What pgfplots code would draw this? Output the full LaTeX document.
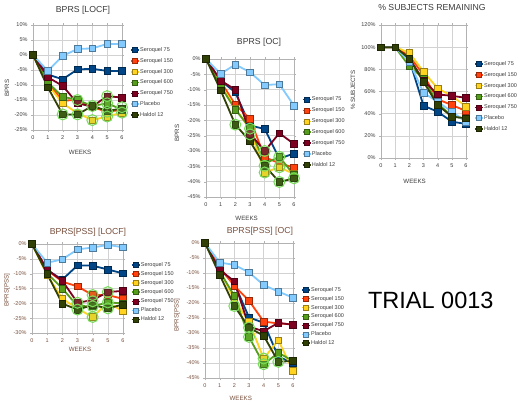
\documentclass[border=0pt]{standalone}
\usepackage{pgfplots}
\pgfplotsset{compat=1.18}
\usepackage{pgfplotstable}
\usepackage{fontspec}
\setmainfont{Liberation Sans}

\definecolor{c75}{HTML}{004586}
\definecolor{c150}{HTML}{FF420E}
\definecolor{c300}{HTML}{FFD320}
\definecolor{c600}{HTML}{579D1C}
\definecolor{c750}{HTML}{7E0021}
\definecolor{cpl}{HTML}{83CAFF}
\definecolor{chal}{HTML}{314004}
\definecolor{gcirc}{RGB}{120,220,90}
\definecolor{brn}{RGB}{120,80,62}
\definecolor{txt}{RGB}{60,60,60}

% BPRS [LOCF]
\pgfplotstableread{
x a b c d e p h
0 0 0 0 0 0 0 0
1 -6.5 -9.4 -10 -9.2 -7.4 -5.3 -10.8
2 -8.1 -15.2 -16.1 -13.9 -10.3 -0.3 -19.8
3 -4.8 -15 -19.4 -15 -16.1 2.0 -19.8
4 -4.6 -17.4 -21.7 -17 -17.2 2.2 -17
5 -5.3 -18.9 -20.5 -16.1 -13.7 3.7 -18.6
6 -5.3 -18.3 -19.2 -18.2 -14.2 3.7 -17.9
}\tA
\pgfplotstableread{
x y
2 -19.8
3 -15
3 -19.8
4 -17
4 -21.7
5 -13.7
5 -16.1
5 -18.9
5 -20.5
6 -17.4
6 -19.2
}\cA

% BPRS [OC]
\pgfplotstableread{
x a b c d e p h
0 0 0 0 0 0 0 0
1 -7 -7.3 -8.4 -8.9 -7 -4.8 -10.2
2 -10.9 -14.9 -16 -16.5 -10 -1.8 -21.4
3 -21.7 -19.5 -23 -22.5 -24.3 -4.3 -26.8
4 -22.8 -32 -37 -34.1 -30 -8.5 -34.8
5 -32.5 -34 -35.3 -31.9 -24.2 -8.2 -40.1
6 -30.8 -35.4 -37.5 -37.8 -27.7 -15.2 -38.9
}\tB
\pgfplotstableread{
x y
2 -21.4
3 -22.7
3 -24.6
4 -30
4 -34.8
4 -37
5 -31.9
5 -35.3
5 -40.1
6 -38.9
}\cB

% % SUBJECTS REMAINING
\pgfplotstableread{
x a b c d e p h
0 100 100 100 100 100 100 100
1 100 100 100 100 100 100 100
2 88.7 92 95 82.7 90 87 89.6
3 47.2 75 77.8 72 70 58.8 68.7
4 41.8 53 62.8 49 57.4 50.8 47.8
5 32.8 47.8 56 38 56.1 41.8 37.3
6 30.7 42.4 46.5 35 54.3 32.5 35.9
}\tC

% BPRS[PSS] [LOCF]
\pgfplotstableread{
x a b c d e p h
0 0 0 0 0 0 0 0
1 -8.8 -8.8 -10.5 -9.9 -8.6 -6.3 -10.1
2 -12 -12.7 -18.4 -15 -12.4 -5.2 -20.1
3 -7.2 -14.3 -21.8 -20.9 -19.8 -1.8 -22.1
4 -7.3 -17.2 -24.6 -21 -18.9 -1.2 -20.6
5 -8.6 -17.2 -19.8 -19.7 -16.2 -0.3 -21.7
6 -9.9 -18.5 -22.6 -20 -15.8 -1.1 -20.4
}\tD
\pgfplotstableread{
x y
3 -19.8
3 -22.1
4 -17.2
4 -19.3
4 -21
4 -24.6
5 -16.2
5 -19.7
5 -21.7
}\cD

% BPRS[PSS] [OC]
\pgfplotstableread{
x a b c d e p h
0 0 0 0 0 0 0 0
1 -8.7 -8.1 -8.9 -9.5 -8.9 -6.5 -10.6
2 -13.5 -14.3 -19 -17.6 -12.8 -7.3 -21
3 -24.8 -19.2 -26.2 -31.3 -27.9 -9.8 -28.2
4 -26.6 -26.2 -38.5 -40.4 -29.4 -14 -30.9
5 -37.9 -26.8 -32.4 -36.6 -26.6 -16.2 -39.6
6 -40 -27.1 -42.6 -39.3 -27.3 -18.2 -39.3
}\tE
\pgfplotstableread{
x y
2 -21
3 -28.2
3 -31.3
4 -38.5
4 -40.4
5 -39.6
}\cE

\pgfplotsset{
  ser/.style={color=#1, line width=1.8pt, mark=square*, mark size=3.3pt,
    mark options={fill=#1, draw=#1!60!black, line width=0.5pt, solid}},
  circ/.style={only marks, mark=*, mark size=5.5pt, forget plot,
    mark options={draw=gcirc, line width=1pt, fill=gcirc, fill opacity=0.18}},
  base/.style={scale only axis, xmin=0, xmax=6, xtick={0,...,6},
    grid=major, grid style={gray!35, line width=0.4pt},
    axis line style={gray!60, line width=0.4pt}, tick style={gray!60},
    tick align=outside, major tick length=2pt, clip=false,
    ticklabel style={font=\fontsize{5.5}{6}\selectfont, text=txt},
    /pgf/number format/assume math mode=true,
    yticklabel={\pgfmathprintnumber{\tick}\%},
    label style={font=\fontsize{6.2}{7}\selectfont, text=txt},
    every axis title shift=0pt,
    title style={font=\fontsize{8.7}{10}\selectfont, anchor=center, yshift=0pt, text=txt},
    xlabel style={anchor=center}, ylabel style={anchor=center},
    legend cell align=left,
    legend image code/.code={\draw[mark repeat=2, mark phase=2, mark size=2.5pt, line width=1.5pt] plot coordinates {(0pt,0pt)(4pt,0pt)(8pt,0pt)};},
    legend style={draw=none, fill=none, inner sep=0pt, anchor=north west,
      font=\fontsize{5.5}{6}\selectfont, text=txt,
      nodes={text height=3.8pt, text depth=1pt, inner sep=0.5pt}},
  },
  brown/.style={ticklabel style={text=brn}, label style={text=brn}, title style={text=brn}},
}

\newcommand{\seven}[1]{%
  \addplot[ser=c75] table[x=x,y=a]{#1};
  \addplot[ser=c150] table[x=x,y=b]{#1};
  \addplot[ser=c300] table[x=x,y=c]{#1};
  \addplot[ser=c600] table[x=x,y=d]{#1};
  \addplot[ser=c750] table[x=x,y=e]{#1};
  \addplot[ser=cpl] table[x=x,y=p]{#1};
  \addplot[ser=chal] table[x=x,y=h]{#1};
}

\begin{document}
\begin{tikzpicture}
\fill[white] (0,0) rectangle (520pt,-407pt);
\useasboundingbox (0,0) rectangle (520pt,-407pt);

% Panel 1
\begin{axis}[base, at={(33pt,-130pt)}, anchor=south west, width=89pt, height=105pt,
  ymin=-25, ymax=10, ytick={-25,-20,...,10},
  title={BPRS [LOCF]}, title style={at={(axis description cs:0.562,1.143)}},
  xlabel={WEEKS}, xlabel style={at={(axis description cs:0.53,-0.21)}},
  ylabel={BPRS}, ylabel style={at={(axis description cs:-0.292,0.4)}},
  legend style={at={(axis description cs:1.09,0.79)}, row sep=5.0pt}]
\seven{\tA}
\addplot[circ] table[x=x,y=y]{\cA};
\legend{Seroquel 75,Seroquel 150,Seroquel 300,Seroquel 600,Seroquel 750,Placebo,Haldol 12}
\end{axis}

% Panel 2
\begin{axis}[base, at={(206pt,-197pt)}, anchor=south west, width=88pt, height=138pt,
  ymin=-45, ymax=0, ytick={-45,-40,...,0},
  title={BPRS [OC]}, title style={at={(axis description cs:0.602,1.118)}},
  xlabel={WEEKS}, xlabel style={at={(axis description cs:0.462,-0.152)}},
  ylabel={BPRS}, ylabel style={at={(axis description cs:-0.33,0.464)}},
  legend style={at={(axis description cs:1.0875,0.729)}, row sep=5.1pt}]
\seven{\tB}
\addplot[circ] table[x=x,y=y]{\cB};
\legend{Seroquel 75,Seroquel 150,Seroquel 300,Seroquel 600,Seroquel 750,Placebo,Haldol 12}
\end{axis}

% Panel 3
\begin{axis}[base, at={(381pt,-158pt)}, anchor=south west, width=85pt, height=133pt,
  ymin=0, ymax=120, ytick={0,20,...,120},
  title={\% SUBJECTS REMAINING}, title style={at={(axis description cs:0.6,1.133)}},
  xlabel={WEEKS}, xlabel style={at={(axis description cs:0.396,-0.173)}},
  ylabel={\% SUBJECTS}, ylabel style={at={(axis description cs:-0.329,0.511)}},
  legend style={at={(axis description cs:1.094,0.729)}, row sep=5.0pt}]
\seven{\tC}
\legend{Seroquel 75,Seroquel 150,Seroquel 300,Seroquel 600,Seroquel 750,Placebo,Haldol 12}
\end{axis}

% Panel 4
\begin{axis}[base, brown, at={(32pt,-333pt)}, anchor=south west, width=91pt, height=89pt,
  ymin=-30, ymax=0, ytick={-30,-25,...,0},
  title={BPRS[PSS] [LOCF]}, title style={at={(axis description cs:0.615,1.127)}},
  xlabel={WEEKS}, xlabel style={at={(axis description cs:0.527,-0.183)}},
  ylabel={BPRS[PSS]}, ylabel style={at={(axis description cs:-0.275,0.483)}},
  legend style={at={(axis description cs:1.085,0.8)}, row sep=3.3pt}]
\seven{\tD}
\addplot[circ] table[x=x,y=y]{\cD};
\legend{Seroquel 75,Seroquel 150,Seroquel 300,Seroquel 600,Seroquel 750,Placebo,Haldol 12}
\end{axis}

% Panel 5
\begin{axis}[base, brown, at={(205pt,-378pt)}, anchor=south west, width=88pt, height=135pt,
  ymin=-45, ymax=0, ytick={-45,-40,...,0},
  title={BPRS[PSS] [OC]}, title style={at={(axis description cs:0.625,1.084)}},
  xlabel={WEEKS}, xlabel style={at={(axis description cs:0.406,-0.148)}},
  ylabel={BPRS[PSS]}, ylabel style={at={(axis description cs:-0.318,0.467)}},
  legend style={at={(axis description cs:1.091,0.676)}, row sep=3.1pt}]
\seven{\tE}
\addplot[circ] table[x=x,y=y]{\cE};
\legend{Seroquel 75,Seroquel 150,Seroquel 300,Seroquel 600,Seroquel 750,Placebo,Haldol 12}
\end{axis}

\node[font=\fontsize{23.5}{26}\selectfont, anchor=base] at (430.8pt,-308.3pt) {TRIAL 0013};
\end{tikzpicture}
\end{document}
